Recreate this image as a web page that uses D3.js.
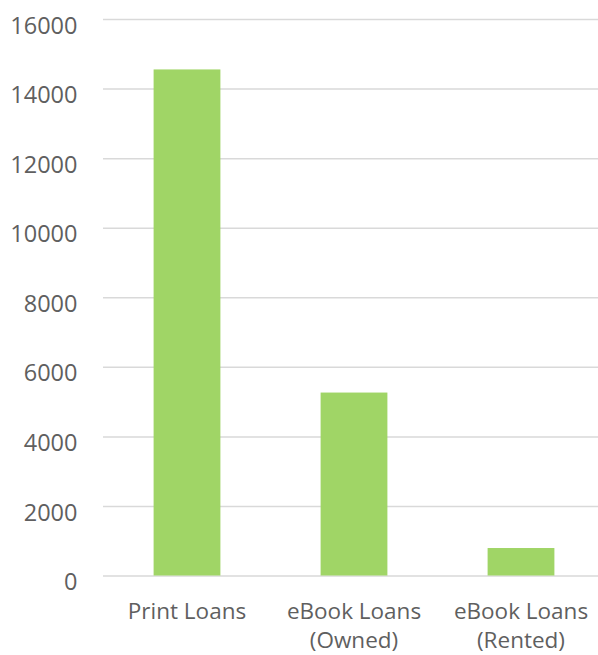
<!DOCTYPE html>
<html>
<head>
<meta charset="utf-8">
<script src="https://cdn.jsdelivr.net/npm/d3@7"></script>
<style>
  html, body { margin: 0; padding: 0; background: #fff; }
  svg { display: block; }
</style>
</head>
<body>
<svg id="chart" width="598" height="655"></svg>
<script>
// Loan counts by format
const categories = ["Print Loans", "eBook Loans (Owned)", "eBook Loans (Rented)"];
const categoryLines = [["Print Loans"], ["eBook Loans", "(Owned)"], ["eBook Loans", "(Rented)"]];
const loans = [14550, 5260, 790];
const yTicks = [0, 2000, 4000, 6000, 8000, 10000, 12000, 14000, 16000];

const svg = d3.select("#chart");
const textColor = "#5f5f5f";
const fontFamily = "'Open Sans', 'Noto Sans', sans-serif";

const x = d3.scaleBand()
  .domain(categories)
  .range([103.5, 604.5])
  .paddingInner(0.6)
  .paddingOuter(0.3);

const y = d3.scaleLinear()
  .domain([0, 16000])
  .range([575.5, 19]);

// Horizontal gridlines via a left axis with full-width ticks
const grid = svg.append("g")
  .attr("transform", "translate(103,0)")
  .call(d3.axisLeft(y).tickValues(yTicks).tickSize(-500).tickFormat(""));
grid.select(".domain").remove();
grid.selectAll(".tick line")
  .attr("stroke", "#d9d9d9")
  .attr("stroke-width", 1.5);

// Tick labels
const yAxis = svg.append("g")
  .attr("transform", "translate(77.5,0)")
  .call(d3.axisLeft(y).tickValues(yTicks).tickSize(0).tickPadding(0).tickFormat(d3.format("d")));
yAxis.select(".domain").remove();
yAxis.selectAll(".tick text")
  .attr("fill", textColor)
  .attr("font-family", fontFamily)
  .attr("font-size", 23.5)
  .attr("dy", "0.6em");

// Bars
svg.append("g")
  .selectAll("rect")
  .data(loans)
  .join("rect")
  .attr("x", (d, i) => x(categories[i]))
  .attr("width", x.bandwidth())
  .attr("y", d => y(d))
  .attr("height", d => y(0) - y(d))
  .attr("fill", "#a0d566");

// Category labels, wrapped onto two lines where needed
const labels = svg.append("g")
  .selectAll("text")
  .data(categories)
  .join("text")
  .attr("x", d => x(d) + x.bandwidth() / 2)
  .attr("y", 619)
  .attr("text-anchor", "middle")
  .attr("fill", textColor)
  .attr("font-family", fontFamily)
  .attr("font-size", 22.5);
labels.each(function(d, i) {
  d3.select(this).selectAll("tspan")
    .data(categoryLines[i])
    .join("tspan")
    .attr("x", x(d) + x.bandwidth() / 2)
    .attr("dy", (t, j) => j === 0 ? 0 : 29)
    .text(t => t);
});
</script>
</body>
</html>
